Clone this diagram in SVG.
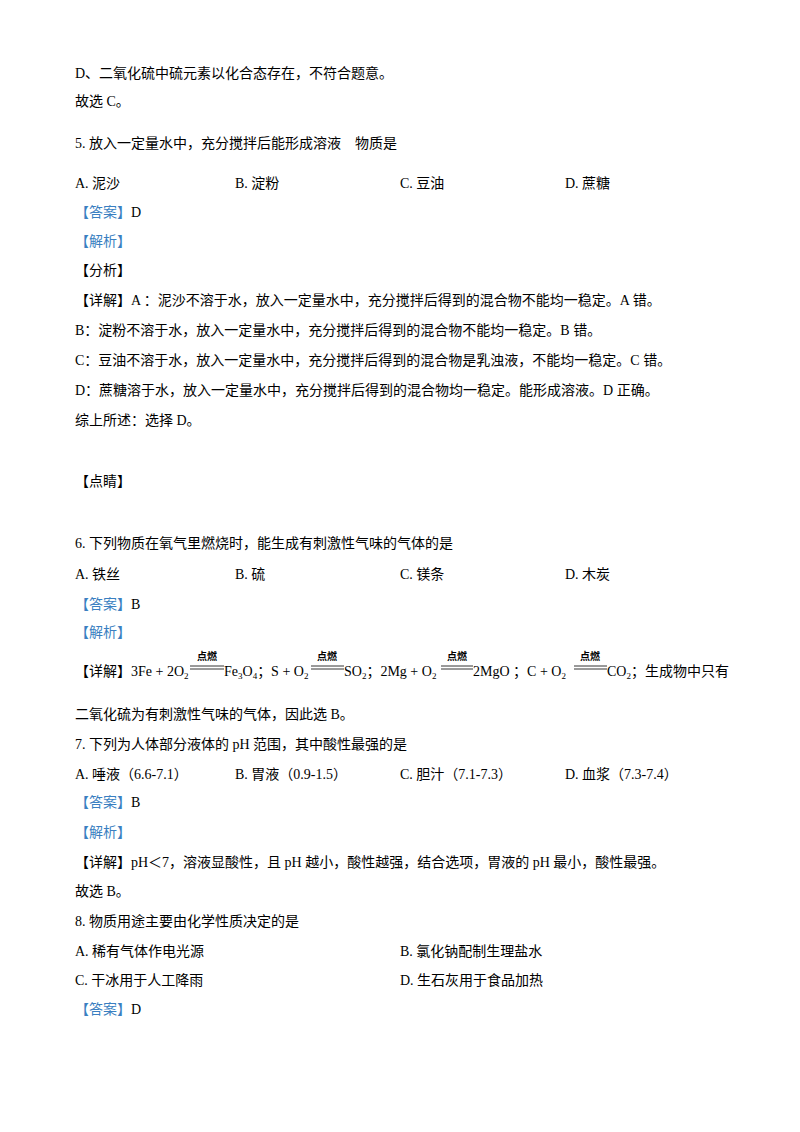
<svg xmlns="http://www.w3.org/2000/svg" width="800" height="1132" viewBox="0 0 800 1132">
<style>
text{font-family:"Liberation Serif","Noto Sans CJK SC",serif;font-size:14px;fill:#000}
.b{fill:#3a7fc1}
.s{font-size:9px}
.k{font-size:10px;font-weight:bold}
line{stroke:#000;stroke-width:0.8}
</style>
<rect width="800" height="1132" fill="#fff"/>
<text x="75" y="78">D、二氧化硫中硫元素以化合态存在，不符合题意。</text>
<text x="75" y="106">故选 C。</text>
<text x="75" y="148">5. 放入一定量水中，充分搅拌后能形成溶液　物质是</text>
<text x="75" y="188">A. 泥沙</text><text x="235" y="188">B. 淀粉</text><text x="400" y="188">C. 豆油</text><text x="565" y="188">D. 蔗糖</text>
<text x="75" y="217"><tspan class="b">【答案】</tspan>D</text>
<text x="75" y="246" class="b">【解析】</text>
<text x="75" y="275">【分析】</text>
<text x="75" y="305">【详解】A ：泥沙不溶于水，放入一定量水中，充分搅拌后得到的混合物不能均一稳定。A 错。</text>
<text x="75" y="335">B：淀粉不溶于水，放入一定量水中，充分搅拌后得到的混合物不能均一稳定。B 错。</text>
<text x="75" y="365">C：豆油不溶于水，放入一定量水中，充分搅拌后得到的混合物是乳浊液，不能均一稳定。C 错。</text>
<text x="75" y="395">D：蔗糖溶于水，放入一定量水中，充分搅拌后得到的混合物均一稳定。能形成溶液。D 正确。</text>
<text x="75" y="425">综上所述：选择 D。</text>
<text x="75" y="486">【点睛】</text>
<text x="75" y="548">6. 下列物质在氧气里燃烧时，能生成有刺激性气味的气体的是</text>
<text x="75" y="579">A. 铁丝</text><text x="235" y="579">B. 硫</text><text x="400" y="579">C. 镁条</text><text x="565" y="579">D. 木炭</text>
<text x="75" y="609"><tspan class="b">【答案】</tspan>B</text>
<text x="75" y="637" class="b">【解析】</text>
<g id="eq">
<text x="75" y="676">【详解】3Fe + 2O<tspan class="s" dy="3">2</tspan></text>
<line x1="190" y1="666" x2="224" y2="666"/><line x1="190" y1="669" x2="224" y2="669"/>
<text x="207" y="660" class="k" text-anchor="middle">点燃</text>
<text x="224" y="676">Fe<tspan class="s" dy="3">3</tspan><tspan dy="-3">O</tspan><tspan class="s" dy="3">4</tspan><tspan dy="-3">；S + O</tspan><tspan class="s" dy="3">2</tspan></text>
<line x1="311" y1="666" x2="344" y2="666"/><line x1="311" y1="669" x2="344" y2="669"/>
<text x="327" y="660" class="k" text-anchor="middle">点燃</text>
<text x="344" y="676">SO<tspan class="s" dy="3">2</tspan><tspan dy="-3">；2Mg + O</tspan><tspan class="s" dy="3">2</tspan></text>
<line x1="441" y1="666" x2="473" y2="666"/><line x1="441" y1="669" x2="473" y2="669"/>
<text x="457" y="660" class="k" text-anchor="middle">点燃</text>
<text x="473" y="676">2MgO ；C + O<tspan class="s" dy="3">2</tspan></text>
<line x1="574" y1="666" x2="607" y2="666"/><line x1="574" y1="669" x2="607" y2="669"/>
<text x="590" y="660" class="k" text-anchor="middle">点燃</text>
<text x="607" y="676">CO<tspan class="s" dy="3">2</tspan><tspan dy="-3">；生成物中只有</tspan></text>
</g>
<text x="75" y="719">二氧化硫为有刺激性气味的气体，因此选 B。</text>
<text x="75" y="749">7. 下列为人体部分液体的 pH 范围，其中酸性最强的是</text>
<text x="75" y="779">A. 唾液（6.6-7.1）</text><text x="235" y="779">B. 胃液（0.9-1.5）</text><text x="400" y="779">C. 胆汁（7.1-7.3）</text><text x="565" y="779">D. 血浆（7.3-7.4）</text>
<text x="75" y="807"><tspan class="b">【答案】</tspan>B</text>
<text x="75" y="837" class="b">【解析】</text>
<text x="75" y="867">【详解】pH＜7，溶液显酸性，且 pH 越小，酸性越强，结合选项，胃液的 pH 最小，酸性最强。</text>
<text x="75" y="896">故选 B。</text>
<text x="75" y="926">8. 物质用途主要由化学性质决定的是</text>
<text x="75" y="956">A. 稀有气体作电光源</text><text x="400" y="956">B. 氯化钠配制生理盐水</text>
<text x="75" y="985">C. 干冰用于人工降雨</text><text x="400" y="985">D. 生石灰用于食品加热</text>
<text x="75" y="1014"><tspan class="b">【答案】</tspan>D</text>
</svg>
